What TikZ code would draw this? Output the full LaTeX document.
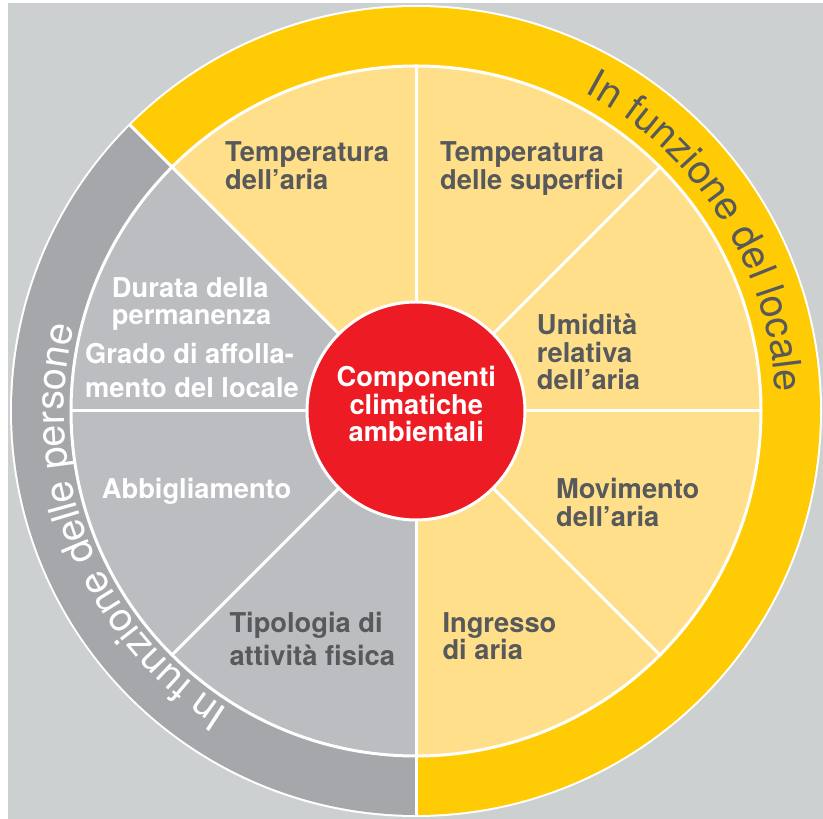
\documentclass[tikz,border=0pt]{standalone}
\usepackage{fontspec}
\setmainfont{TeX Gyre Heros}
\usetikzlibrary{decorations.text}
\definecolor{bggray}{HTML}{CDD0D1}
\definecolor{ringyellow}{HTML}{FFCB05}
\definecolor{secyellow}{HTML}{FFDF8A}
\definecolor{ringgray}{HTML}{A6A7AB}
\definecolor{secgray}{HTML}{BCBDC0}
\definecolor{centrered}{HTML}{ED1C24}
\definecolor{txtgray}{HTML}{58595B}
\newcommand\labfont{\fontsize{27.3}{27.5}\selectfont\bfseries}
\newcommand\ringfont{\fontsize{39.5}{40}\selectfont}
\newcommand\lblines[2]{\vtop{\baselineskip=#1\relax\halign{##\hfil\cr#2\crcr}}}
\newcommand\ctrlines[2]{\vtop{\baselineskip=#1\relax\halign{\hfil##\hfil\cr#2\crcr}}}
\tikzset{
  sepline/.style={white, line width=3pt},
  lbl/.style={anchor=base west, inner sep=0pt, font=\labfont, text=txtgray},
  lblw/.style={lbl, text=white},
  redcircle/.style={circle, fill=centrered, draw=white, line width=3pt, minimum size=218pt, inner sep=0pt},
}
\begin{document}
\begin{tikzpicture}[x=1pt,y=1pt]
\useasboundingbox (0,0) rectangle (823,819);
\fill[white] (0,0) rectangle (823,819);
\fill[bggray] (8,0) rectangle (823,816);
\coordinate (C) at (416,408);
% outer disc
\fill[white] (C) circle (406pt);
\fill[ringyellow] (C) -- ([shift={(-90:404pt)}]C) arc[start angle=-90, end angle=135, radius=404pt] -- cycle;
\fill[ringgray] (C) -- ([shift={(135:404pt)}]C) arc[start angle=135, end angle=270, radius=404pt] -- cycle;
% sectors
\fill[secyellow] (C) -- ([shift={(-90:345pt)}]C) arc[start angle=-90, end angle=135, radius=345pt] -- cycle;
\fill[secgray] (C) -- ([shift={(135:345pt)}]C) arc[start angle=135, end angle=270, radius=345pt] -- cycle;
\draw[sepline] (C) circle (345pt);
\foreach \a in {0,45,...,315} \draw[sepline] (C) -- ([shift={(\a:345pt)}]C);
\draw[sepline] ([shift={(135:345pt)}]C) -- ([shift={(135:405pt)}]C);
\draw[sepline] ([shift={(270:345pt)}]C) -- ([shift={(270:405pt)}]C);
% ring texts
\path[decorate, decoration={text along path, text={|\ringfont|In funzione del locale}, text align=center, text color=txtgray}]
  ([shift={(92.5:360pt)}]C) arc[start angle=92.5, end angle=-27.5, radius=360pt];
\path[decorate, decoration={text along path, text={|\ringfont|In funzione delle persone}, text align=center, text color=white}]
  ([shift={(262:352pt)}]C) arc[start angle=262, end angle=142, radius=352pt];
% centre
\node[redcircle] (centre) at (C) {};
\node[lblw, anchor=base] (centrelabel) at (416.3,432.3) {\ctrlines{27.5pt}{Componenti\cr climatiche\cr ambientali}};
% labels
\node[lbl] (tair) at (225,657.3) {\lblines{27.6pt}{Temperatura\cr dell’aria}};
\node[lbl] (tsup) at (440,657.3) {\lblines{27.6pt}{Temperatura\cr delle superfici}};
\node[lbl] (umid) at (536.7,484) {\lblines{27.5pt}{Umidità\cr relativa\cr dell’aria}};
\node[lbl] (movi) at (556,320) {\lblines{27.7pt}{Movimento\cr dell’aria}};
\node[lbl] (ingr) at (442.3,186.7) {\lblines{27.7pt}{Ingresso\cr di aria}};
\node[lbl] (tipo) at (229.3,186) {\lblines{32.5pt}{Tipologia di\cr attività fisica}};
\node[lblw] (abbi) at (101.7,320) {Abbigliamento};
\node[lblw] (dura) at (111.7,521) {\lblines{27pt}{Durata della\cr permanenza}};
\node[lblw] (grad) at (85,455) {\lblines{33.7pt}{Grado di affolla-\cr mento del locale}};
\end{tikzpicture}
\end{document}
